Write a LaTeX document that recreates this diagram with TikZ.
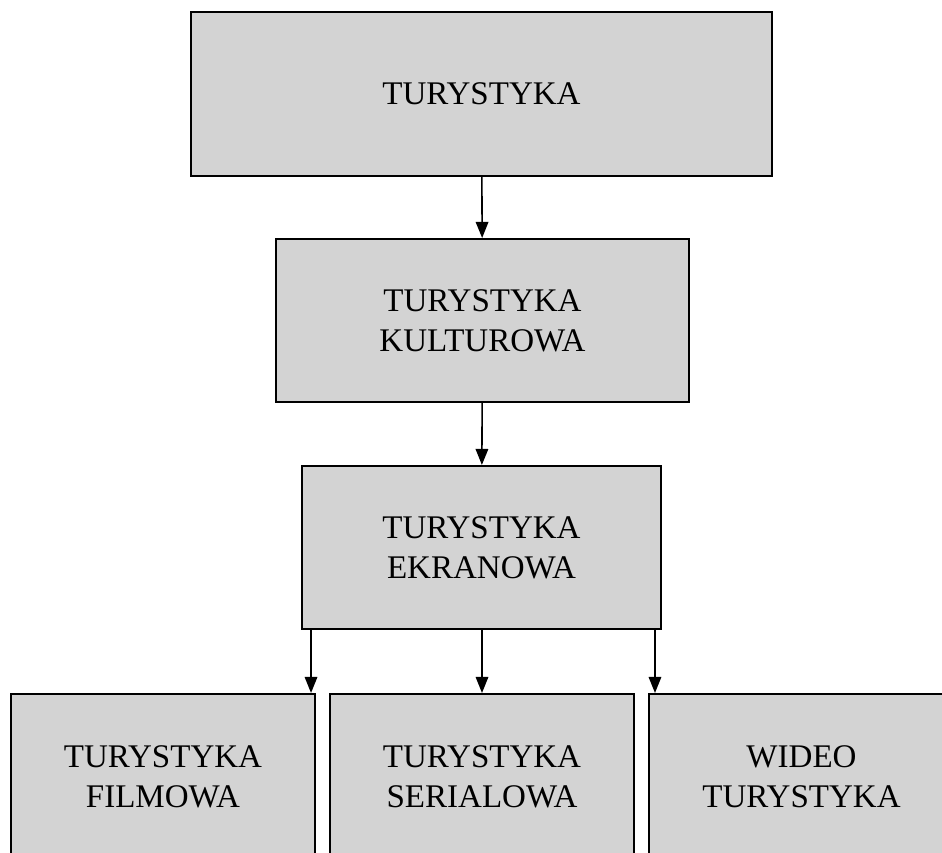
\documentclass[tikz,border=0pt]{standalone}
\usepackage{fontspec}
\setmainfont{Liberation Serif}
\usetikzlibrary{arrows.meta}
\definecolor{boxgray}{RGB}{211,211,211}
\begin{document}
\begin{tikzpicture}[x=0.02cm,y=-0.02cm]

        \useasboundingbox (0,0) rectangle (942,852);
        \clip (0,0) rectangle (942,852);

        \begin{scope}[every node/.style={rectangle,draw,fill=boxgray,line width=1.2pt,
            align=center,inner sep=0pt,font=\fontsize{18.8}{22.8}\selectfont}]
          \node[minimum width=11.62cm,minimum height=3.28cm] (1) at (481.5,94)  {TURYSTYKA};
          \node[minimum width=8.26cm,minimum height=3.26cm]  (2) at (482.5,320.5) {TURYSTYKA\\KULTUROWA};
          \node[minimum width=7.18cm,minimum height=3.26cm]  (3) at (481.5,547.5) {TURYSTYKA\\EKRANOWA};
          \node[minimum width=6.08cm,minimum height=3.32cm]  (4) at (163,777)   {TURYSTYKA\\FILMOWA};
          \node[minimum width=6.08cm,minimum height=3.32cm]  (5) at (482,777)   {TURYSTYKA\\SERIALOWA};
          \node[minimum width=6.10cm,minimum height=3.32cm]  (6) at (801.5,777) {WIDEO\\TURYSTYKA};
        \end{scope}

        \begin{scope}[every edge/.style={draw,line width=0.9pt,-{Triangle[length=0.32cm,width=0.25cm]}}]
          \path (1) edge (2);
          \path (2) edge (3);
          \path ([xshift=-0.1cm]3.south -| 4.north east) edge ([xshift=-0.1cm]4.north east);
          \path (3.south -| 5.north) edge (5.north);
          \path ([xshift=0.14cm]3.south -| 6.north west) edge ([xshift=0.14cm]6.north west);
        \end{scope}

      \end{tikzpicture}
\end{document}
